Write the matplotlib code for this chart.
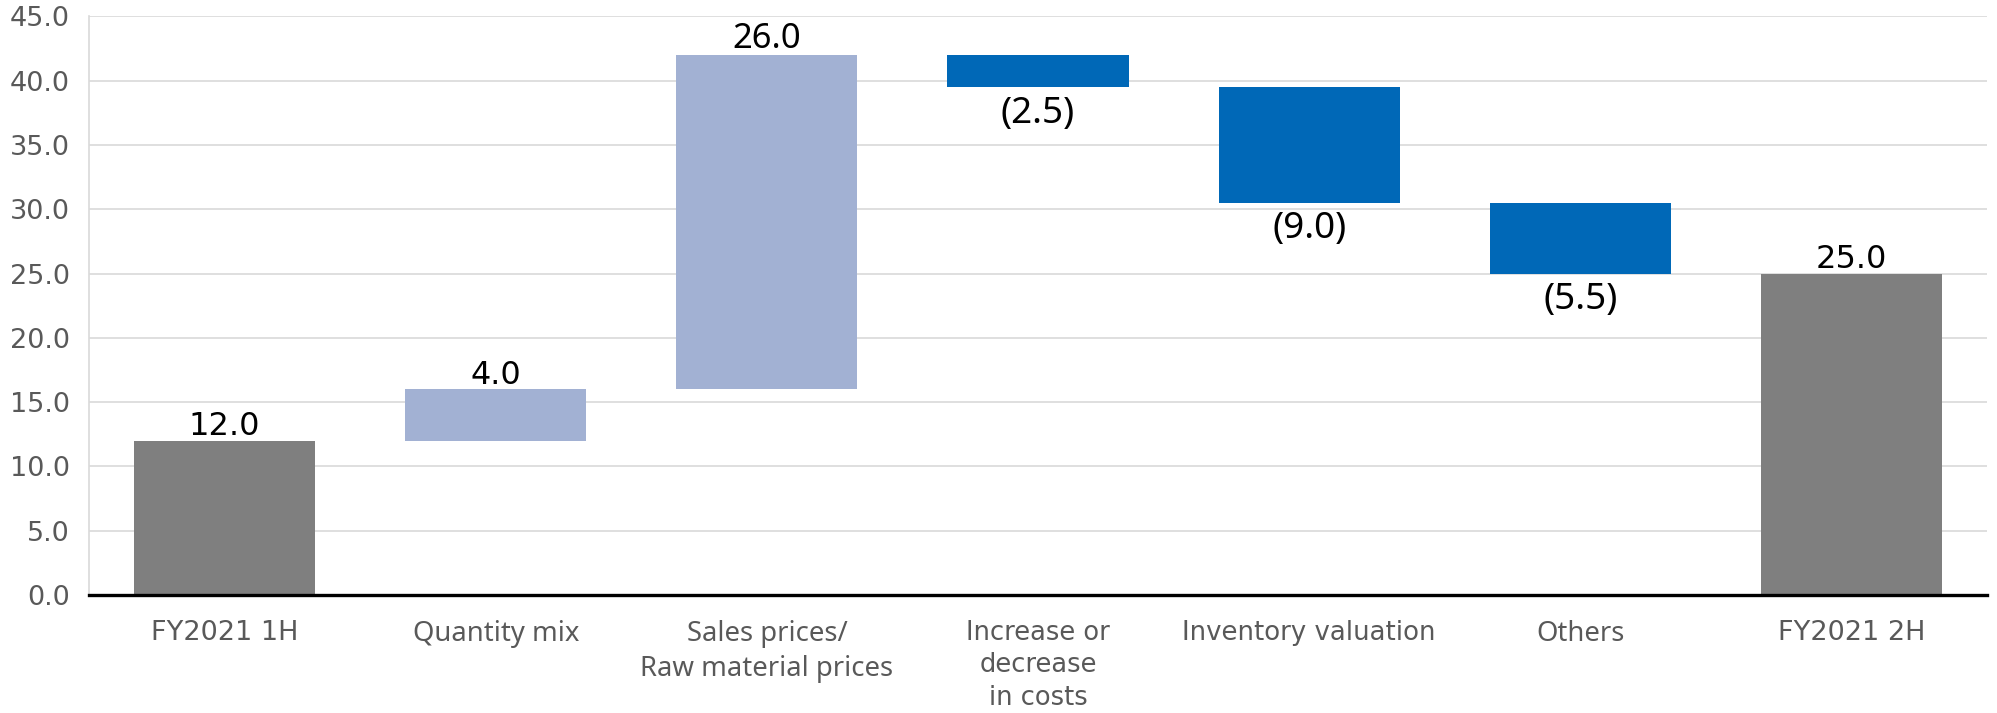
"""Operating income bridge, FY2021 1H to FY2021 2H (waterfall)."""

import numpy as np
import matplotlib.pyplot as plt

categories = [
    "FY2021 1H",
    "Quantity mix",
    "Sales prices/\nRaw material prices",
    "Increase or\ndecrease\nin costs",
    "Inventory valuation",
    "Others",
    "FY2021 2H",
]
changes = [12.0, 4.0, 26.0, -2.5, -9.0, -5.5, 25.0]
kinds = ["total", "up", "up", "down", "down", "down", "total"]
y_ticks = [0, 5, 10, 15, 20, 25, 30, 35, 40, 45]

# fonts differ between labels, as in the source slide
VERDANA_LIKE = "DejaVu Sans"
MEIRYO_LIKE = "Noto Sans"
tick_fonts = [VERDANA_LIKE, MEIRYO_LIKE, MEIRYO_LIKE, VERDANA_LIKE,
              VERDANA_LIKE, MEIRYO_LIKE, VERDANA_LIKE]
tick_sizes = [19.5, 19.8, 19.8, 18.5, 18.7, 19.8, 19.5]
value_fonts = [VERDANA_LIKE, VERDANA_LIKE, MEIRYO_LIKE, MEIRYO_LIKE,
               MEIRYO_LIKE, MEIRYO_LIKE, VERDANA_LIKE]
value_sizes = [23, 23, 25, 26.5, 26.5, 26.5, 23]

COLORS = {"total": "#7F7F7F", "up": "#A2B1D3", "down": "#0068B7"}


def bar_geometry(values, kinds):
    bottoms, heights = [], []
    level = 0.0
    for v, k in zip(values, kinds):
        if k == "total":
            bottoms.append(0.0)
            heights.append(v)
            level = v
        elif v >= 0:
            bottoms.append(level)
            heights.append(v)
            level += v
        else:
            level += v
            bottoms.append(level)
            heights.append(-v)
    return np.array(bottoms), np.array(heights)


def fmt(v):
    return f"({abs(v):.1f})" if v < 0 else f"{v:.1f}"


fig = plt.figure(figsize=(19.97, 7.13), dpi=100)
ax = fig.add_axes([0.0446, 0.1655, 0.9504, 0.8114])

x = np.arange(len(categories))
bottoms, heights = bar_geometry(changes, kinds)
colors = [COLORS[k] for k in kinds]
ax.bar(x, heights, bottom=bottoms, width=0.668, color=colors, zorder=3)

for xi, v, b, h, fam, fs in zip(x, changes, bottoms, heights, value_fonts,
                                value_sizes):
    if v >= 0:
        ax.annotate(fmt(v), (xi, b + h), xytext=(0, -1), textcoords="offset points",
                    ha="center", va="bottom", fontsize=fs, family=fam,
                    color="black")
    else:
        ax.annotate(fmt(v), (xi, b), xytext=(0, -6), textcoords="offset points",
                    ha="center", va="top", fontsize=fs, family=fam,
                    color="black")

ax.set_xlim(-0.5, len(categories) - 0.5)
ax.set_ylim(0, 45)
ax.set_yticks(y_ticks)
ax.set_yticklabels([f"{t:.1f}" for t in y_ticks], fontsize=19.5, color="#595959",
                   family=VERDANA_LIKE)
ax.set_xticks(x)
ax.set_xticklabels(categories, color="#595959")
for lab, fam, fs in zip(ax.get_xticklabels(), tick_fonts, tick_sizes):
    lab.set_family(fam)
    lab.set_fontsize(fs)
    lab.set_linespacing(1.32)
ax.tick_params(axis="both", length=0)
ax.tick_params(axis="y", pad=14)
ax.tick_params(axis="x", pad=18)

ax.grid(axis="y", color="#D9D9D9", linewidth=1.2, zorder=0)
ax.set_axisbelow(True)
for side in ("top", "right"):
    ax.spines[side].set_visible(False)
ax.spines["left"].set_color("#D9D9D9")
ax.spines["left"].set_linewidth(1.2)
ax.spines["bottom"].set_color("black")
ax.spines["bottom"].set_linewidth(2.4)
ax.spines["bottom"].set_zorder(4)

fig.savefig("out.png", dpi=100, facecolor="white")
plt.close(fig)
